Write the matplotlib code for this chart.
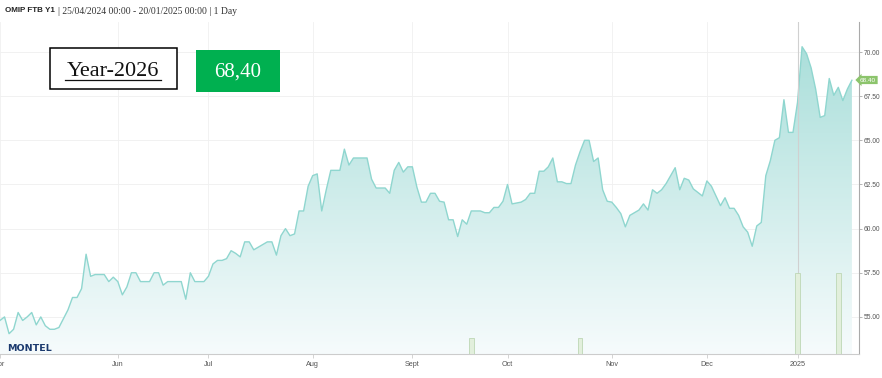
"""
OMIP FTB Y1 (Year-2026) daily price chart, Montel style
"""

import numpy as np
import pandas as pd
import matplotlib
matplotlib.use("Agg")
import matplotlib.pyplot as plt
from matplotlib.colors import LinearSegmentedColormap
from matplotlib.patches import Rectangle
from matplotlib.lines import Line2D

# trading days 25/04/2024 - 20/01/2025, exchange holidays removed
start_date = "2024-04-25"
end_date = "2025-01-20"
holidays = ["2024-05-01", "2024-12-25", "2024-12-26", "2025-01-01"]

# daily settlement prices (EUR/MWh)
prices = [
    54.8, 55.0, 54.05, 54.3, 55.25, 54.8, 55.0, 55.25, 54.55, 55.0,
    54.5, 54.3, 54.3, 54.4, 54.9, 55.4, 56.1, 56.1, 56.6, 58.55,
    57.3, 57.4, 57.4, 57.4, 57.0, 57.25, 57.0, 56.25, 56.7, 57.5,
    57.5, 57.0, 57.0, 57.0, 57.5, 57.5, 56.8, 57.0, 57.0, 57.0,
    57.0, 56.0, 57.5, 57.0, 57.0, 57.0, 57.3, 58.0, 58.2, 58.2,
    58.3, 58.75, 58.6, 58.4, 59.25, 59.25, 58.8, 58.95, 59.1, 59.25,
    59.25, 58.5, 59.6, 60.0, 59.6, 59.7, 61.0, 61.0, 62.4, 63.0,
    63.1, 61.0, 62.2, 63.3, 63.3, 63.3, 64.5, 63.6, 64.0, 64.0,
    64.0, 64.0, 62.8, 62.3, 62.3, 62.3, 62.0, 63.3, 63.75, 63.2,
    63.5, 63.5, 62.35, 61.5, 61.5, 62.0, 62.0, 61.55, 61.5, 60.5,
    60.5, 59.55, 60.5, 60.25, 61.0, 61.0, 61.0, 60.9, 60.9, 61.2,
    61.2, 61.55, 62.5, 61.4, 61.45, 61.5, 61.65, 62.0, 62.0, 63.25,
    63.25, 63.5, 64.0, 62.65, 62.65, 62.55, 62.55, 63.6, 64.35, 65.0,
    65.0, 63.8, 64.0, 62.2, 61.55, 61.5, 61.2, 60.85, 60.1, 60.75,
    60.9, 61.05, 61.4, 61.05, 62.2, 62.0, 62.2, 62.55, 63.0, 63.45,
    62.2, 62.85, 62.75, 62.25, 62.05, 61.85, 62.7, 62.4, 61.85, 61.3,
    61.75, 61.15, 61.15, 60.75, 60.1, 59.8, 59.0, 60.15, 60.35, 63.0,
    63.85, 65.0, 65.15, 67.3, 65.45, 65.45, 67.15, 70.3, 69.9, 69.1,
    67.9, 66.3, 66.4, 68.5, 67.55, 68.0, 67.25, 67.9, 68.4,
]

# traded volume bars
volume_dates = ["2024-09-19", "2024-10-23", "2025-01-02", "2025-01-15"]
volumes = [1, 1, 5, 5]

# x axis labels (first trading day of the month)
tick_months = ["2024-04", "2024-06", "2024-07", "2024-08", "2024-09",
               "2024-10", "2024-11", "2024-12", "2025-01"]
tick_labels = ["Apr", "Jun", "Jul", "Aug", "Sept", "Oct", "Nov", "Dec", "2025"]

y_ticks = [55.0, 57.5, 60.0, 62.5, 65.0, 67.5, 70.0]

title_bold = "OMIP FTB Y1"
title_rest = "| 25/04/2024 00:00 - 20/01/2025 00:00 | 1 Day"
contract_label = "Year-2026"
last_label = "68,40"

W, H = 882, 378


def fx(px):
    return px / W


def fy(py):
    return 1 - py / H


dates = pd.bdate_range(start_date, end_date)
dates = dates[~dates.isin(pd.to_datetime(holidays))]
x = np.arange(len(dates))
months = dates.strftime("%Y-%m")
tick_pos = [int(np.argmax(months == m)) for m in tick_months]
vol_pos = [int(np.argmax(dates == pd.Timestamp(d))) for d in volume_dates]

ymin, ymax = 52.9, 71.7
xmax = len(dates) + 0.5

fig = plt.figure(figsize=(W / 100, H / 100), dpi=100)
ax = fig.add_axes([0, 1 - 354 / H, 858.7 / W, (354 - 22) / H])
axv = ax.twinx()

# gradient area under the line
grad_cmap = LinearSegmentedColormap.from_list("area", ["#f6fbfc", "#a5ddd8"])
grad = np.linspace(0, 1, 256).reshape(-1, 1)
im = ax.imshow(grad, cmap=grad_cmap, origin="lower", aspect="auto",
               extent=[0, xmax, ymin, ymax], zorder=1)
area = ax.fill_between(x, prices, ymin, facecolor="none", edgecolor="none")
im.set_clip_path(area.get_paths()[0], transform=ax.transData)
ax.plot(x, prices, color="#8fd6cf", lw=1.0, zorder=3)

# grid
for yv in y_ticks:
    ax.axhline(yv, color="#efefef", lw=0.6, zorder=0)
for xv in tick_pos[:-1]:
    ax.axvline(xv, color="#f0f0f0", lw=0.6, zorder=0)
ax.axvline(tick_pos[-1], color="#d0d0d0", lw=0.8, zorder=4)

ax.set_xlim(0, xmax)
ax.set_ylim(ymin, ymax)
ax.set_xticks(tick_pos)
ax.set_xticklabels(tick_labels, family="Liberation Sans")
ax.tick_params(axis="x", labelsize=5.2, labelcolor="#555555", color="#cccccc",
               length=3, width=0.6, pad=2)

ax.yaxis.tick_right()
ax.set_yticks(y_ticks)
ax.set_yticklabels([f"{v:.2f}" for v in y_ticks], family="Liberation Sans")
ax.tick_params(axis="y", labelsize=4.8, labelcolor="#555555", color="#aaaaaa",
               length=2.5, width=0.6, pad=1.2)
ax.spines["left"].set_visible(False)
ax.spines["top"].set_visible(False)
ax.spines["bottom"].set_color("#cccccc")
ax.spines["right"].set_color("#aaaaaa")

# volume bars
axv.bar(vol_pos, volumes, width=1.0, facecolor="#e2efdc", edgecolor="#bdd7b5",
        lw=0.6, zorder=2)
axv.set_ylim(0, 20.5)
axv.set_xlim(0, xmax)
axv.axis("off")

# title line
fig.text(fx(5), fy(11), title_bold, fontsize=5.8, fontweight="bold",
         family="Liberation Sans", va="center", color="#222222")
fig.text(fx(58), fy(11), title_rest, fontsize=6.9, family="Liberation Serif",
         va="center", color="#333333")

# MONTEL logo text
fig.text(fx(7), fy(351), "MONTEL", fontsize=6.8, fontweight="bold",
         family="DejaVu Sans", color="#1b3a6e", va="baseline")

# last price tag
fig.text(fx(868), fy(80), f"{prices[-1]:.2f}", fontsize=4.6, color="white",
         ha="center", va="center", family="Liberation Sans",
         bbox=dict(boxstyle="larrow,pad=0.25", fc="#8cc46c", ec="none"))

# contract box and last price box
fig.add_artist(Rectangle((fx(50), fy(89.3)), (177.3 - 50) / W, (89.3 - 48.3) / H,
                         transform=fig.transFigure, fc="white", ec="black", lw=1.1))
fig.text(fx(113), fy(76), contract_label, fontsize=16, family="Liberation Serif",
         ha="center", va="baseline", color="#111111")
fig.add_artist(Line2D([fx(65), fx(161)], [fy(79.5), fy(79.5)],
                      transform=fig.transFigure, color="#111111", lw=0.9))

fig.add_artist(Rectangle((fx(196), fy(91.7)), (280 - 196) / W, (91.7 - 50) / H,
                         transform=fig.transFigure, fc="#00b050", ec="none"))
fig.text(fx(238), fy(77), last_label, fontsize=15, family="Liberation Serif",
         ha="center", va="baseline", color="white")

fig.savefig("out.png", dpi=100)
plt.close("all")
